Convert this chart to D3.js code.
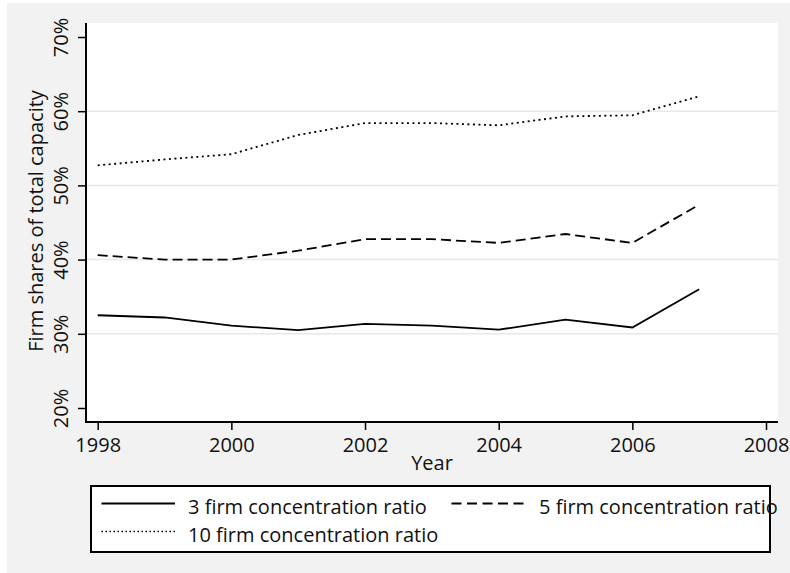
<!DOCTYPE html>
<html>
<head>
<meta charset="utf-8">
<script src="https://cdn.jsdelivr.net/npm/d3@7"></script>
<style>
html,body{margin:0;padding:0;background:#fff;}
svg{display:block;}
text{font-family:"Open Sans",sans-serif;fill:#111;}
</style>
</head>
<body>
<svg id="chart" width="790" height="573"></svg>
<script>
const years = [1998,1999,2000,2001,2002,2003,2004,2005,2006,2007];
const cr3  = [32.5,32.2,31.1,30.5,31.35,31.1,30.55,31.9,30.85,36.0];
const cr5  = [40.6,40.0,40.0,41.2,42.75,42.75,42.25,43.45,42.25,47.4];
const cr10 = [52.7,53.5,54.2,56.8,58.4,58.4,58.1,59.3,59.45,62.0];
const seriesNames = ["3 firm concentration ratio","5 firm concentration ratio","10 firm concentration ratio"];
const xTicks = [1998,2000,2002,2004,2006,2008];
const yTicks = [20,30,40,50,60,70];
const gridTicks = [30,40,50,60];

const svg = d3.select("#chart");
// background
svg.append("rect").attr("x",7).attr("y",3).attr("width",783).attr("height",570).attr("fill","#f2f2f2");

const plot = {left:86, right:778, top:23, bottom:422};
svg.append("rect").attr("x",plot.left).attr("y",plot.top)
  .attr("width",plot.right-plot.left).attr("height",plot.bottom-plot.top).attr("fill","#fff");

const x = d3.scaleLinear().domain([1998,2008]).range([97.7,766]);
const y = d3.scaleLinear().domain([20,70]).range([408,37]);

// grid
svg.append("g").selectAll("line").data(gridTicks).join("line")
  .attr("x1",plot.left).attr("x2",plot.right)
  .attr("y1",d=>y(d)).attr("y2",d=>y(d))
  .attr("stroke","#e8e8e8").attr("stroke-width",1.5);

// axes
const xAxis = d3.axisBottom(x).tickValues(xTicks).tickFormat(d3.format("d")).tickSize(8).tickSizeOuter(0);
const gx = svg.append("g").attr("transform",`translate(0,${plot.bottom})`).call(xAxis);
gx.select(".domain").remove();
gx.selectAll(".tick line").attr("stroke","#000").attr("stroke-width",1.5);
gx.selectAll(".tick text").attr("font-size",20).attr("font-family","Open Sans").attr("fill","#111").attr("dy",0).attr("y",30);
svg.append("line").attr("x1",plot.left-1).attr("x2",plot.right).attr("y1",plot.bottom).attr("y2",plot.bottom)
  .attr("stroke","#000").attr("stroke-width",2);

const yAxis = d3.axisLeft(y).tickValues(yTicks).tickFormat(d=>d+"%").tickSize(8).tickSizeOuter(0);
const gy = svg.append("g").attr("transform",`translate(${plot.left},0)`).call(yAxis);
gy.select(".domain").remove();
gy.selectAll(".tick line").attr("stroke","#000").attr("stroke-width",1.5);
gy.selectAll(".tick text").attr("font-size",20).attr("font-family","Open Sans").attr("fill","#111")
  .attr("x",0).attr("dy",0).attr("text-anchor","middle")
  .attr("transform","translate(-18,0) rotate(-90)");
svg.append("line").attr("x1",plot.left).attr("x2",plot.left).attr("y1",plot.top).attr("y2",plot.bottom+1)
  .attr("stroke","#000").attr("stroke-width",2);

// axis titles
svg.append("text").attr("x",432).attr("y",470).attr("text-anchor","middle").attr("font-size",20).text("Year");
svg.append("text").attr("transform","translate(43,221) rotate(-90)").attr("text-anchor","middle")
  .attr("font-size",20).text("Firm shares of total capacity");

// lines
const styles = [
  {data:cr3, dash:null},
  {data:cr5, dash:"10,5"},
  {data:cr10, dash:"2,3.5"}
];
const line = d3.line().x((d,i)=>x(years[i])).y(d=>y(d));
styles.forEach(s=>{
  svg.append("path").datum(s.data).attr("d",line).attr("fill","none")
    .attr("stroke","#000").attr("stroke-width",1.8)
    .attr("stroke-dasharray",s.dash);
});

// legend
svg.append("rect").attr("x",91).attr("y",486).attr("width",679).attr("height",66)
  .attr("fill","#fff").attr("stroke","#000").attr("stroke-width",2);
const legPos = [
  {x1:101.5,x2:175,y:503.5,tx:188,ty:514},
  {x1:451.5,x2:526,y:503.5,tx:539,ty:514},
  {x1:101.5,x2:175,y:531.5,tx:188,ty:542}
];
const legDash = [null,"10,5.5","1.5,2.5"];
legPos.forEach((p,i)=>{
  svg.append("line").attr("x1",p.x1).attr("x2",p.x2).attr("y1",p.y).attr("y2",p.y)
    .attr("stroke","#000").attr("stroke-width",i===2?1.3:2).attr("stroke-dasharray",legDash[i]);
  svg.append("text").attr("x",p.tx).attr("y",p.ty).attr("font-size",20).text(seriesNames[i]);
});
</script>
</body>
</html>
